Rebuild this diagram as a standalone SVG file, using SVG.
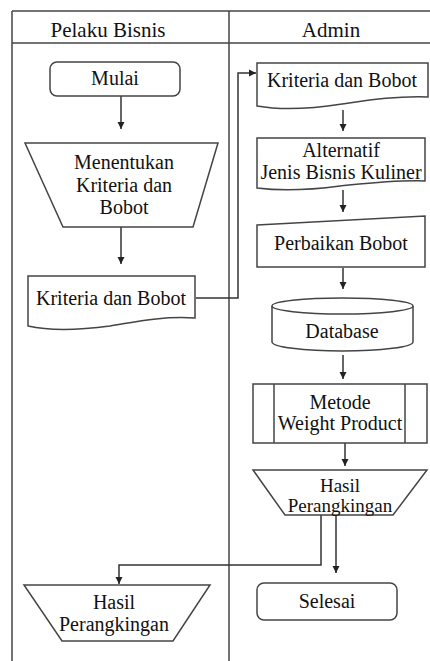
<svg xmlns="http://www.w3.org/2000/svg" width="430" height="661" viewBox="0 0 430 661">
<defs>
<marker id="ah" markerWidth="8" markerHeight="8" refX="7" refY="4" orient="auto" markerUnits="userSpaceOnUse">
<path d="M0,0.5 L7,4 L0,7.5 Z" fill="#222"/>
</marker>
<style>
.frame{stroke:#444;stroke-width:1.5;fill:none}
.shape{fill:#fff;stroke:#444;stroke-width:1.5}
.conn{fill:none;stroke:#333;stroke-width:1.5}
.t{font-family:'Liberation Serif','Times New Roman',serif;font-size:20px;fill:#111;text-anchor:middle;dominant-baseline:central}
.hd{font-size:21px}
.sm{font-size:19px}
</style>
</defs>
<rect width="430" height="661" fill="#fff"/>
<g id="frame">
<line class="frame" x1="12" y1="11" x2="430" y2="11"/>
<line class="frame" x1="12" y1="43" x2="430" y2="43"/>
<line class="frame" x1="12" y1="11" x2="12" y2="661"/>
<line class="frame" x1="229" y1="11" x2="229" y2="661"/>
<text class="t hd" x="108" y="30">Pelaku Bisnis</text>
<text class="t hd" x="331" y="30">Admin</text>
</g>
<g id="connectors">
<path class="conn" d="M121,96 V129" marker-end="url(#ah)"/>
<path class="conn" d="M121,227 V264" marker-end="url(#ah)"/>
<path class="conn" d="M196,298 H238 V73 H256" marker-end="url(#ah)"/>
<path class="conn" d="M343,110 V131" marker-end="url(#ah)"/>
<path class="conn" d="M343,190 V212" marker-end="url(#ah)"/>
<path class="conn" d="M343,268 V289" marker-end="url(#ah)"/>
<path class="conn" d="M343,355 V379" marker-end="url(#ah)"/>
<path class="conn" d="M345,443 V466" marker-end="url(#ah)"/>
<path class="conn" d="M321,515 V565 H119 V584" marker-end="url(#ah)"/>
<path class="conn" d="M336,515 V573" marker-end="url(#ah)"/>
</g>
<g id="mulai">
<rect class="shape" x="50" y="62" width="130" height="34" rx="7"/>
<text class="t" x="115" y="78">Mulai</text>
</g>
<g id="menentukan">
<path class="shape" d="M25,143 H218 L193,227 H63 Z"/>
<text class="t" x="124" y="162">Menentukan</text>
<text class="t" x="124" y="185">Kriteria dan</text>
<text class="t" x="124" y="207">Bobot</text>
</g>
<g id="kriteria-pb">
<path class="shape" d="M28,276 H195 V318 C160,316 135,322 110,326 C80,330 50,331 28,326 Z"/>
<text class="t" x="111" y="298">Kriteria dan Bobot</text>
</g>
<g id="kriteria-admin">
<path class="shape" d="M257,63 H428 V97 C395,96 370,100 342,104 C310,109 280,110 257,106 Z"/>
<text class="t" x="342" y="80">Kriteria dan Bobot</text>
</g>
<g id="alternatif">
<path class="shape" d="M257,138 H425 V181 C395,180 370,183 340,186 C310,190 280,191 257,188 Z"/>
<text class="t" x="341" y="150">Alternatif</text>
<text class="t" x="341" y="172">Jenis Bisnis Kuliner</text>
</g>
<g id="perbaikan">
<path class="shape" d="M257,225 L425,216 V267 H257 Z"/>
<text class="t" x="341" y="243">Perbaikan Bobot</text>
</g>
<g id="database">
<path class="shape" d="M272,306 V342 A70.5,9 0 0 0 413,342 V306"/>
<ellipse class="shape" cx="342.5" cy="306" rx="70.5" ry="8"/>
<text class="t" x="342" y="331">Database</text>
</g>
<g id="metode">
<rect class="shape" x="253" y="384" width="174" height="59"/>
<line class="shape" x1="274" y1="384" x2="274" y2="443"/>
<line class="shape" x1="405" y1="384" x2="405" y2="443"/>
<text class="t" x="340" y="402">Metode</text>
<text class="t" x="340" y="423">Weight Product</text>
</g>
<g id="hasil-admin">
<path class="shape" d="M253,470 H427 L393,515 H285 Z"/>
<text class="t sm" x="340" y="485">Hasil</text>
<text class="t sm" x="340" y="505">Perangkingan</text>
</g>
<g id="selesai">
<rect class="shape" x="257" y="583" width="140" height="37" rx="7"/>
<text class="t" x="327" y="601">Selesai</text>
</g>
<g id="hasil-pb">
<path class="shape" d="M24,585 H210 L173,641 H62 Z"/>
<text class="t" x="114" y="602">Hasil</text>
<text class="t" x="114" y="624">Perangkingan</text>
</g>
</svg>
